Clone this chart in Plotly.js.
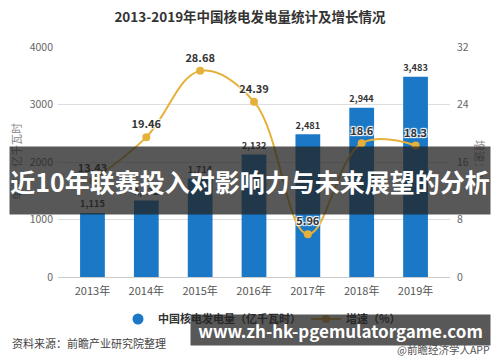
<!DOCTYPE html>
<html>
<head>
<meta charset="utf-8">
<script src="https://cdn.plot.ly/plotly-3.0.1.min.js"></script>
<style>html,body{margin:0;padding:0;background:#fff;}#chart{width:500px;height:362px;}</style>
</head>
<body>
<div id="chart"></div>
<script>
const years = ['2013年','2014年','2015年','2016年','2017年','2018年','2019年'];
const generation = [1115, 1332, 1714, 2132, 2481, 2944, 3483];
const generationLabels = ['1,115','1,332','1,714','2,132','2,481','2,944','3,483'];
const growth = [13.43, 19.46, 28.68, 24.39, 5.96, 18.6, 18.3];
const growthLabels = ['13.43','19.46','28.68','24.39','5.96','18.6','18.3'];

const FONT = '"Noto Sans CJK SC", "Noto Sans", sans-serif';
const BLUE = '#1a78c6';
const GOLD = '#e6b13a';

// plot area in pixels: x 58..450, y 47..277
const L = 58, R = 450, T = 47, B = 277;
const px = x => (x - L) / (R - L);
const py = y => (B - y) / (B - T);

const traces = [
  {
    type: 'bar', x: years, y: generation, width: 0.46,
    marker: {color: BLUE},
    text: generationLabels, textposition: 'outside', cliponaxis: false,
    textfont: {family: FONT, size: 11, color: '#333', weight: 'bold'},
    showlegend: false, hoverinfo: 'skip'
  },
  {
    type: 'scatter', x: [null], y: [null], mode: 'markers',
    name: '中国核电发电量（亿千瓦时）',
    marker: {color: BLUE, size: 11, symbol: 'circle'}
  },
  {
    type: 'scatter', x: years, y: growth, yaxis: 'y2',
    mode: 'lines+markers+text', name: '增速（%）',
    line: {color: GOLD, width: 2, shape: 'spline', smoothing: 1.1},
    marker: {color: GOLD, size: 8},
    text: growthLabels, textposition: 'top center', cliponaxis: false,
    textfont: {family: FONT, size: 11, color: '#333', weight: 'bold',
      shadow: '1px 1px 1px #fff, -1px -1px 1px #fff, 1px -1px 1px #fff, -1px 1px 1px #fff'}
  }
];

const layout = {
  width: 500, height: 362,
  margin: {l: L, r: 500 - R, t: T, b: 362 - B, pad: 0},
  paper_bgcolor: '#fff', plot_bgcolor: '#fff',
  font: {family: FONT, color: '#555'},
  title: {text: '2013-2019年中国核电发电量统计及增长情况', x: 0.5, xanchor: 'center', y: 0.953, yanchor: 'middle',
    font: {family: FONT, size: 13.5, color: '#333', weight: 'bold'}},
  xaxis: {type: 'category', range: [-0.64, 6.64], showgrid: false, zeroline: false,
    showline: true, linecolor: '#ccc', ticks: '', tickfont: {family: FONT, size: 11, color: '#555'}, ticklabelstandoff: 4},
  yaxis: {range: [0, 4000], dtick: 1000, showgrid: true, gridcolor: '#dedede', zeroline: false,
    tickfont: {family: FONT, size: 10.5, color: '#666'}, ticklabelstandoff: 4, tickformat: 'd'},
  yaxis2: {range: [0, 32], dtick: 8, overlaying: 'y', side: 'right', showgrid: false, zeroline: false,
    tickfont: {family: FONT, size: 10.5, color: '#666'}, ticklabelstandoff: 6},
  barmode: 'overlay',
  showlegend: true,
  legend: {orientation: 'h', x: px(262), xanchor: 'center', y: py(319), yanchor: 'middle',
    font: {family: FONT, size: 11, color: '#333', weight: 'bold'}, itemwidth: 30, tracegroupgap: 0},
  annotations: [
    {xref: 'paper', yref: 'paper', x: px(16), y: py(162), xanchor: 'center', yanchor: 'middle',
      text: '单位：亿千瓦时', textangle: -90,
      showarrow: false, font: {family: FONT, size: 11, color: '#888'}},
    {xref: 'paper', yref: 'paper', x: px(480), y: py(162), xanchor: 'center', yanchor: 'middle',
      text: '增速：%', textangle: 90,
      showarrow: false, font: {family: FONT, size: 11, color: '#888'}},
    {xref: 'paper', yref: 'paper', x: px(10), y: py(343), xanchor: 'left', yanchor: 'middle',
      text: '资料来源：前瞻产业研究院整理', showarrow: false, font: {family: FONT, size: 11, color: '#444'}},
    {xref: 'paper', yref: 'paper', x: px(492), y: py(349), xanchor: 'right', yanchor: 'middle',
      text: '@前瞻经济学人APP', showarrow: false, font: {family: FONT, size: 10.5, color: '#555'}},
    {xref: 'paper', yref: 'paper', x: px(250), y: py(180.5), xanchor: 'center', yanchor: 'middle',
      text: '近10年联赛投入对影响力与未来展望的分析', showarrow: false, width: 480, height: 67, borderpad: 0,
      bgcolor: 'rgba(35,35,35,0.76)', font: {family: FONT, size: 25, color: '#fff', weight: 'bold'}},
    {xref: 'paper', yref: 'paper', x: px(340.5), y: py(330), xanchor: 'center', yanchor: 'middle',
      text: 'www.zh-hk-pgemulatorgame.com', showarrow: false, width: 299, height: 30, borderpad: 0,
      bgcolor: 'rgba(35,35,35,0.76)', font: {family: FONT, size: 17, color: '#fff', weight: 'bold'}}
  ]
};

Plotly.newPlot('chart', traces, layout, {displayModeBar: false, staticPlot: true});
</script>
</body>
</html>
